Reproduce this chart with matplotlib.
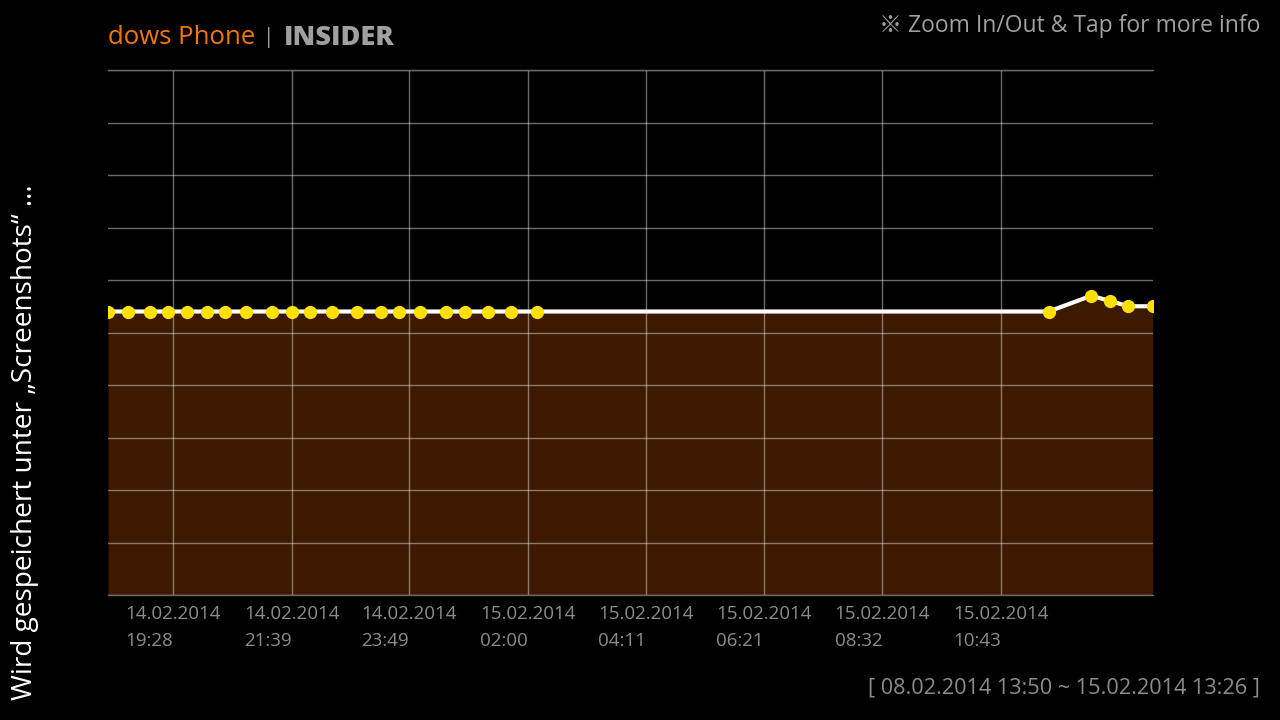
import matplotlib
matplotlib.use("Agg")
import matplotlib.pyplot as plt
import matplotlib.dates as mdates
from datetime import datetime

# ---- data ----
times = [
    "2014-02-14 18:16", "2014-02-14 18:38", "2014-02-14 19:02", "2014-02-14 19:22",
    "2014-02-14 19:43", "2014-02-14 20:05", "2014-02-14 20:25", "2014-02-14 20:49",
    "2014-02-14 21:17", "2014-02-14 21:39", "2014-02-14 21:59", "2014-02-14 22:24",
    "2014-02-14 22:51", "2014-02-14 23:18", "2014-02-14 23:38", "2014-02-15 00:01",
    "2014-02-15 00:30", "2014-02-15 00:51", "2014-02-15 01:16", "2014-02-15 01:42",
    "2014-02-15 02:10", "2014-02-15 11:36", "2014-02-15 12:23", "2014-02-15 12:44",
    "2014-02-15 13:04", "2014-02-15 13:31",
]
values = [54, 54, 54, 54, 54, 54, 54, 54, 54, 54, 54, 54, 54, 54, 54, 54,
          54, 54, 54, 54, 54, 54, 57, 56, 55, 55]
tick_times = [
    "2014-02-14 19:28", "2014-02-14 21:39", "2014-02-14 23:49", "2014-02-15 02:00",
    "2014-02-15 04:11", "2014-02-15 06:21", "2014-02-15 08:32", "2014-02-15 10:43",
]
y_ticks = [0, 10, 20, 30, 40, 50, 60, 70, 80, 90, 100]
title_left = "dows Phone"
title_right = "INSIDER"
hint_text = "※ Zoom In/Out & Tap for more info"
range_text = "[ 08.02.2014 13:50 ~ 15.02.2014 13:26 ]"
side_text = "Wird gespeichert unter „Screenshots“ ..."

fmt = "%Y-%m-%d %H:%M"
x = [datetime.strptime(t, fmt) for t in times]
xt = [datetime.strptime(t, fmt) for t in tick_times]

plt.rcParams['font.family'] = ['Open Sans', 'Noto Sans CJK JP', 'DejaVu Sans']

fig = plt.figure(figsize=(12.8, 7.2), dpi=100, facecolor='black')
W, H = 1280, 720
ax = fig.add_axes([108 / W, 1 - 595 / H, (1152.7 - 108) / W, (595 - 70) / H])
ax.set_facecolor('black')

ax.fill_between(x, values, 0, color='#3c1900', zorder=1, linewidth=0)
ax.plot(x, values, color='white', lw=3, zorder=2, solid_joinstyle='round')
ax.plot(x, values, linestyle='none', marker='o', markersize=8.5,
        markerfacecolor='#ffe000', markeredgecolor='#ffe000', zorder=3)

ax.set_xlim(x[0], x[-1])
ax.set_ylim(0, 100)
ax.set_yticks(y_ticks)
ax.set_xticks(mdates.date2num(xt))
ax.set_xticklabels([d.strftime("%d.%m.%Y\n%H:%M") for d in xt],
                   color='#8c8c8c', fontsize=13.5, linespacing=1.65)
for lab in ax.get_xticklabels():
    lab.set_multialignment('left')
ax.tick_params(axis='x', length=0, pad=7)
ax.tick_params(axis='y', length=0, labelleft=False)
ax.set_axisbelow('line')
ax.grid(True, color='white', alpha=0.42, lw=1)
for s in ['left', 'right']:
    ax.spines[s].set_visible(False)
for s in ['top', 'bottom']:
    ax.spines[s].set_color('#6b6b6b')
    ax.spines[s].set_linewidth(1)

# header
fig.text(108 / W, 1 - 38 / H, title_left, color='#f47800', fontsize=18.5,
         ha='left', va='center')
fig.text(269 / W, 1 - 38 / H, "|", color='#a0a0a0', fontsize=15,
         ha='center', va='center')
fig.text(284 / W, 1 - 38 / H, title_right, color='#a0a0a0', fontsize=19.5,
         fontweight='heavy', ha='left', va='center')
fig.text(1260 / W, 1 - 26 / H, hint_text, color='#a0a0a0', fontsize=16.5,
         ha='right', va='center')
fig.text(1260 / W, 1 - 688 / H, range_text, color='#8c8c8c', fontsize=15.6,
         ha='right', va='center')
fig.text(25 / W, 1 - 700 / H, side_text, color='white', fontsize=20.2,
         rotation=90, ha='center', va='bottom')

fig.savefig("out.png", dpi=100, facecolor='black')
